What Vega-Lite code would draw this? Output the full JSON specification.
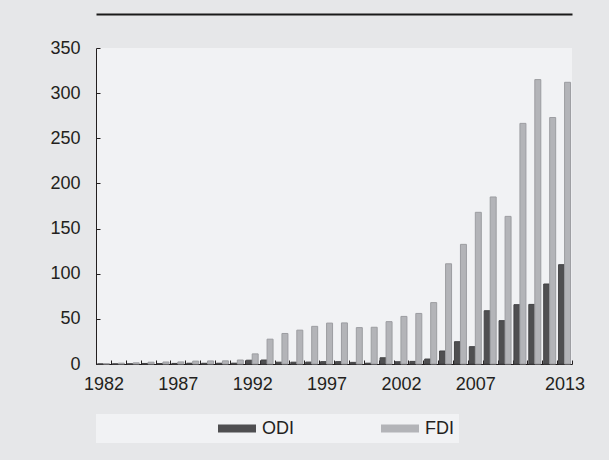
{
  "$schema": "https://vega.github.io/schema/vega-lite/v6.json",
  "width": 476,
  "height": 316,
  "autosize": {"type": "none"},
  "padding": {"left": 96, "top": 48, "right": 37, "bottom": 96},
  "background": "#e6e7e9",
  "config": {
    "view": {"fill": "#f1f2f4", "stroke": null},
    "font": "Liberation Sans",
    "axis": {
      "labelFont": "Liberation Sans",
      "labelFontSize": 18,
      "labelColor": "#231f20",
      "domainColor": "#231f20",
      "tickColor": "#231f20",
      "grid": false,
      "title": null
    }
  },
  "data": {
    "values": [
      {"year": 1982, "type": "ODI", "value": 0.05}, {"year": 1982, "type": "FDI", "value": 0.4},
      {"year": 1983, "type": "ODI", "value": 0.1}, {"year": 1983, "type": "FDI", "value": 0.9},
      {"year": 1984, "type": "ODI", "value": 0.15}, {"year": 1984, "type": "FDI", "value": 1.3},
      {"year": 1985, "type": "ODI", "value": 0.6}, {"year": 1985, "type": "FDI", "value": 2.0},
      {"year": 1986, "type": "ODI", "value": 0.45}, {"year": 1986, "type": "FDI", "value": 2.2},
      {"year": 1987, "type": "ODI", "value": 0.65}, {"year": 1987, "type": "FDI", "value": 2.3},
      {"year": 1988, "type": "ODI", "value": 0.85}, {"year": 1988, "type": "FDI", "value": 3.2},
      {"year": 1989, "type": "ODI", "value": 0.8}, {"year": 1989, "type": "FDI", "value": 3.4},
      {"year": 1990, "type": "ODI", "value": 0.85}, {"year": 1990, "type": "FDI", "value": 3.5},
      {"year": 1991, "type": "ODI", "value": 0.9}, {"year": 1991, "type": "FDI", "value": 4.4},
      {"year": 1992, "type": "ODI", "value": 4.2}, {"year": 1992, "type": "FDI", "value": 11.2},
      {"year": 1993, "type": "ODI", "value": 4.4}, {"year": 1993, "type": "FDI", "value": 27.5},
      {"year": 1994, "type": "ODI", "value": 2.0}, {"year": 1994, "type": "FDI", "value": 33.8},
      {"year": 1995, "type": "ODI", "value": 2.0}, {"year": 1995, "type": "FDI", "value": 37.5},
      {"year": 1996, "type": "ODI", "value": 2.1}, {"year": 1996, "type": "FDI", "value": 41.7},
      {"year": 1997, "type": "ODI", "value": 2.6}, {"year": 1997, "type": "FDI", "value": 45.3},
      {"year": 1998, "type": "ODI", "value": 2.6}, {"year": 1998, "type": "FDI", "value": 45.5},
      {"year": 1999, "type": "ODI", "value": 1.8}, {"year": 1999, "type": "FDI", "value": 40.3},
      {"year": 2000, "type": "ODI", "value": 0.9}, {"year": 2000, "type": "FDI", "value": 40.7},
      {"year": 2001, "type": "ODI", "value": 6.9}, {"year": 2001, "type": "FDI", "value": 46.9},
      {"year": 2002, "type": "ODI", "value": 2.5}, {"year": 2002, "type": "FDI", "value": 52.7},
      {"year": 2003, "type": "ODI", "value": 2.9}, {"year": 2003, "type": "FDI", "value": 56.0},
      {"year": 2004, "type": "ODI", "value": 5.5}, {"year": 2004, "type": "FDI", "value": 68.0},
      {"year": 2005, "type": "ODI", "value": 14.4}, {"year": 2005, "type": "FDI", "value": 111.0},
      {"year": 2006, "type": "ODI", "value": 24.7}, {"year": 2006, "type": "FDI", "value": 132.5},
      {"year": 2007, "type": "ODI", "value": 19.2}, {"year": 2007, "type": "FDI", "value": 168.0},
      {"year": 2008, "type": "ODI", "value": 59.0}, {"year": 2008, "type": "FDI", "value": 185.0},
      {"year": 2009, "type": "ODI", "value": 48.0}, {"year": 2009, "type": "FDI", "value": 163.5},
      {"year": 2010, "type": "ODI", "value": 65.7}, {"year": 2010, "type": "FDI", "value": 266.5},
      {"year": 2011, "type": "ODI", "value": 66.0}, {"year": 2011, "type": "FDI", "value": 315.0},
      {"year": 2012, "type": "ODI", "value": 88.6}, {"year": 2012, "type": "FDI", "value": 273.0},
      {"year": 2013, "type": "ODI", "value": 110.0}, {"year": 2013, "type": "FDI", "value": 312.0}
    ]
  },
  "layer": [
    {
      "mark": {"type": "bar", "strokeWidth": 1},
      "encoding": {
        "x": {
          "field": "year",
          "type": "ordinal",
          "scale": {"paddingInner": 0, "paddingOuter": 0},
          "axis": {
            "labelAngle": 0,
            "tickBand": "extent",
            "tickSize": -4,
            "labelPadding": 15,
            "labelExpr": "indexof([1982,1987,1992,1997,2002,2007,2013], datum.value) >= 0 ? datum.label : ''"
          }
        },
        "xOffset": {
          "field": "type",
          "type": "nominal",
          "scale": {"domain": ["ODI", "FDI"], "paddingOuter": 0.24, "paddingInner": 0}
        },
        "y": {
          "field": "value",
          "type": "quantitative",
          "scale": {"domain": [0, 350], "nice": false},
          "axis": {"values": [0, 50, 100, 150, 200, 250, 300, 350], "tickSize": -4, "labelPadding": 20}
        },
        "color": {
          "field": "type",
          "type": "nominal",
          "scale": {"domain": ["ODI", "FDI"], "range": ["#4f4f51", "#b3b4b8"]},
          "legend": {
            "orient": "none",
            "legendX": 0,
            "legendY": 366,
            "direction": "horizontal",
            "fillColor": "#f1f2f4",
            "padding": 5,
            "clipHeight": 19,
            "symbolType": "M-1,-0.21H1V0.21H-1Z",
            "symbolSize": 1444,
            "symbolOffset": 85,
            "symbolStrokeWidth": 0,
            "labelOffset": 6,
            "labelFont": "Liberation Sans",
            "labelFontSize": 18,
            "labelColor": "#231f20",
            "columnPadding": 1,
            "title": " ",
            "titleOrient": "left",
            "titleFontSize": 1,
            "titlePadding": 32
          }
        },
        "stroke": {
          "field": "type",
          "type": "nominal",
          "scale": {"domain": ["ODI", "FDI"], "range": ["#434345", "#9c9da1"]},
          "legend": null
        }
      }
    },
    {
      "mark": {"type": "tick", "opacity": 0},
      "encoding": {
        "x": {
          "field": "year",
          "type": "ordinal",
          "axis": {
            "orient": "top",
            "offset": 34,
            "domainWidth": 2,
            "domainColor": "#1a1a1a",
            "labels": false,
            "ticks": false
          }
        },
        "y": {"field": "value", "type": "quantitative"}
      }
    }
  ],
  "resolve": {"axis": {"x": "independent", "y": "shared"}}
}
